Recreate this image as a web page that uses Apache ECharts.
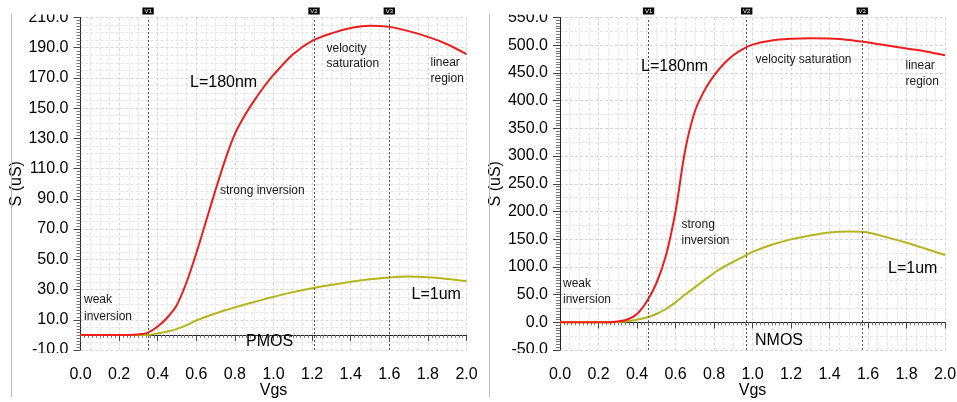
<!DOCTYPE html>
<html>
<head>
<meta charset="utf-8">
<script src="https://cdn.jsdelivr.net/npm/echarts@6/dist/echarts.min.js"></script>
<style>
  html, body { margin: 0; padding: 0; background: #fff; }
  #chart { width: 957px; height: 402px; }
</style>
</head>
<body>
<div id="chart"></div>
<script>
// Transconductance S (uS) versus gate voltage Vgs for two channel lengths.

// PMOS sweep
const vgsPmos   = [0, 0.1, 0.2, 0.25, 0.3, 0.35, 0.4, 0.45, 0.5, 0.55, 0.6, 0.65, 0.7, 0.75, 0.8, 0.85, 0.9, 0.95, 1.0, 1.1, 1.2, 1.3, 1.4, 1.5, 1.6, 1.7, 1.8, 1.9, 2.0];
const pmosShort = [0, 0, 0, 0, 0.3, 1.5, 5.5, 11.5, 20, 35, 54, 75, 96, 116, 133, 145, 155, 164, 172, 185.5, 194.5, 199.5, 203, 204.6, 203.8, 201, 197.2, 192.3, 185.7];
const pmosLong  = [0, 0, 0, 0, 0, 0, 1, 2.2, 4, 6.5, 9.5, 12, 14.2, 16.3, 18.2, 20, 21.8, 23.5, 25.2, 28.3, 30.9, 33.1, 35.2, 36.8, 38, 38.6, 38.1, 37, 35.6];

// NMOS sweep
const vgsNmos   = [0, 0.1, 0.2, 0.25, 0.3, 0.35, 0.4, 0.45, 0.5, 0.55, 0.6, 0.65, 0.7, 0.75, 0.8, 0.85, 0.9, 0.95, 1.0, 1.1, 1.2, 1.3, 1.4, 1.5, 1.6, 1.7, 1.8, 1.9, 2.0];
const nmosShort = [0, 0, 0, 0, 1.5, 5, 15, 37, 70, 120, 200, 310, 380, 418, 445, 466, 482, 493, 501, 508.5, 511.5, 512.7, 512, 509.6, 505, 499.5, 494, 488.7, 482];
const nmosLong  = [0, 0, 0, 0, 0.5, 2, 4.5, 8.5, 15, 24, 36, 50, 63, 76, 89, 100, 109, 118, 127, 140, 149.6, 156.8, 162.2, 164, 162.2, 153.2, 143.6, 132.7, 121.4];

// Region markers V1..V3 (Vgs)
const markerNames = ['V1', 'V2', 'V3'];
const pmosMarkers = [0.351, 1.21, 1.60];
const nmosMarkers = [0.456, 0.973, 1.566];

const FONT = 'Liberation Sans, Arial, Helvetica, sans-serif';
const RED = '#ee1c1c';
const OLIVE = '#b4b41c';

const zip = (xs, ys) => xs.map((x, i) => [x, ys[i]]);

function markers(values) {
  return {
    silent: true,
    symbol: 'none',
    animation: false,
    lineStyle: { color: '#555', width: 1, type: [2, 2] },
    label: {
      show: true, position: 'end', distance: 3,
      color: '#fff', backgroundColor: '#000',
      fontSize: 6, fontFamily: FONT, padding: [1, 2, 0, 2]
    },
    data: values.map((v, i) => ({ xAxis: v, label: { formatter: markerNames[i] } }))
  };
}

function mainX(gridIndex) {
  return {
    type: 'value', gridIndex, min: 0, max: 2, interval: 0.2, position: 'bottom', offset: 3,
    name: 'Vgs', nameLocation: 'middle', nameGap: 30, nameMoveOverlap: false,
    nameTextStyle: { fontSize: 16, fontFamily: FONT, color: '#000' },
    axisLine: { show: true, lineStyle: { color: '#222', width: 1 } },
    axisTick: { show: true, length: 6, lineStyle: { color: '#444' } },
    minorTick: { show: true, splitNumber: 10, length: 3, lineStyle: { color: '#777' } },
    axisLabel: { fontSize: 16, fontFamily: FONT, color: '#000', margin: 14, formatter: v => v.toFixed(1) },
    splitLine: { show: false }
  };
}
function gridX(gridIndex) {
  return {
    type: 'value', gridIndex, min: 0, max: 2, interval: 0.2, position: 'top',
    axisLine: { show: false }, axisTick: { show: false }, axisLabel: { show: false },
    minorTick: { show: false, splitNumber: 4 },
    splitLine: { show: true, lineStyle: { color: '#d6d6d6', type: [3, 2] } },
    minorSplitLine: { show: true, lineStyle: { color: '#e4e4e4', type: [3, 2] } }
  };
}
function mainY(gridIndex, min, max, interval) {
  return {
    type: 'value', gridIndex, min, max, interval, position: 'left', offset: 5,
    name: 'S (uS)', nameLocation: 'middle', nameGap: 51, nameRotate: 90, nameMoveOverlap: false,
    nameTextStyle: { fontSize: 16, fontFamily: FONT, color: '#000' },
    axisLine: { show: true, lineStyle: { color: '#222', width: 1 } },
    axisTick: { show: true, length: 7, lineStyle: { color: '#444' } },
    minorTick: { show: true, splitNumber: 10, length: 4, lineStyle: { color: '#777' } },
    axisLabel: { fontSize: 16, fontFamily: FONT, color: '#000', margin: 7, formatter: v => v.toFixed(1) },
    splitLine: { show: false }
  };
}
function gridY(gridIndex, min, max, interval, split) {
  return {
    type: 'value', gridIndex, min, max, interval, position: 'right',
    axisLine: { show: false }, axisTick: { show: false }, axisLabel: { show: false },
    minorTick: { show: false, splitNumber: split },
    splitLine: { show: true, lineStyle: { color: '#d6d6d6', type: [3, 2] } },
    minorSplitLine: { show: true, lineStyle: { color: '#e4e4e4', type: [3, 2] } }
  };
}

function curve(xIdx, yIdx, data, color, mark) {
  const s = {
    type: 'line', xAxisIndex: xIdx, yAxisIndex: yIdx, data,
    showSymbol: false, smooth: 0.3, animation: false, z: 3,
    lineStyle: { color, width: 2 }
  };
  if (mark) s.markLine = mark;
  return s;
}

function note(x, y, text, size, lineHeight, fill) {
  return {
    type: 'text', x, y, z: 50, silent: true,
    style: { text, font: size + 'px ' + FONT, fill: fill || '#1a1a1a', verticalAlign: 'middle', lineHeight: lineHeight || size + 2 }
  };
}
function cover(x, y, w, h) {
  return { type: 'rect', z: 100, silent: true, shape: { x, y, width: w, height: h }, style: { fill: '#fff' } };
}
function frame(x) {
  return { type: 'line', z: 40, silent: true, shape: { x1: x, y1: 14, x2: x, y2: 397 }, style: { stroke: '#bcbcbc', lineWidth: 1 } };
}

const chart = echarts.init(document.getElementById('chart'), null, { renderer: 'canvas' });
chart.setOption({
  animation: false,
  backgroundColor: '#fff',
  grid: [
    { left: 80.5, right: 490.5, top: 17.5, bottom: 52, containLabel: false, outerBoundsMode: 'none' },
    { left: 560, right: 12, top: 17.5, bottom: 52, containLabel: false, outerBoundsMode: 'none' }
  ],
  xAxis: [mainX(0), gridX(0), mainX(1), gridX(1)],
  yAxis: [
    mainY(0, -10, 210, 20), gridY(0, -10, 210, 20, 4),
    mainY(1, -50, 550, 50), gridY(1, -50, 550, 50, 2)
  ],
  series: [
    curve(0, 0, zip(vgsPmos, pmosLong), OLIVE),
    curve(0, 0, zip(vgsPmos, pmosShort), RED, markers(pmosMarkers)),
    curve(2, 2, zip(vgsNmos, nmosLong), OLIVE),
    curve(2, 2, zip(vgsNmos, nmosShort), RED, markers(nmosMarkers))
  ],
  graphic: [
    frame(11.5), frame(489.5),
    // tick labels are clipped at the plot edges
    cover(20, 0, 52, 14.5), cover(20, 353, 52, 11),
    cover(500, 0, 52, 14.5), cover(500, 353, 52, 11),
    // PMOS annotations
    note(190, 83, 'L=180nm', 16, 18, '#000'),
    note(220, 191, 'strong inversion', 12),
    note(84, 308, 'weak\ninversion', 12, 16.5),
    note(326.5, 56, 'velocity\nsaturation', 12, 15),
    note(430.5, 71, 'linear\nregion', 12, 15.7),
    note(246, 341.5, 'PMOS', 16, 18, '#000'),
    note(411.5, 295, 'L=1um', 16, 18, '#000'),
    // NMOS annotations
    note(641, 66.5, 'L=180nm', 16, 18, '#000'),
    note(755.5, 60, 'velocity saturation', 12),
    note(905.5, 73.5, 'linear\nregion', 12, 15.5),
    note(681.5, 232.5, 'strong\ninversion', 12, 15.5),
    note(563, 292, 'weak\ninversion', 12, 15.7),
    note(755, 340.5, 'NMOS', 16, 18, '#000'),
    note(888, 268.5, 'L=1um', 16, 18, '#000')
  ]
});
</script>
</body>
</html>
